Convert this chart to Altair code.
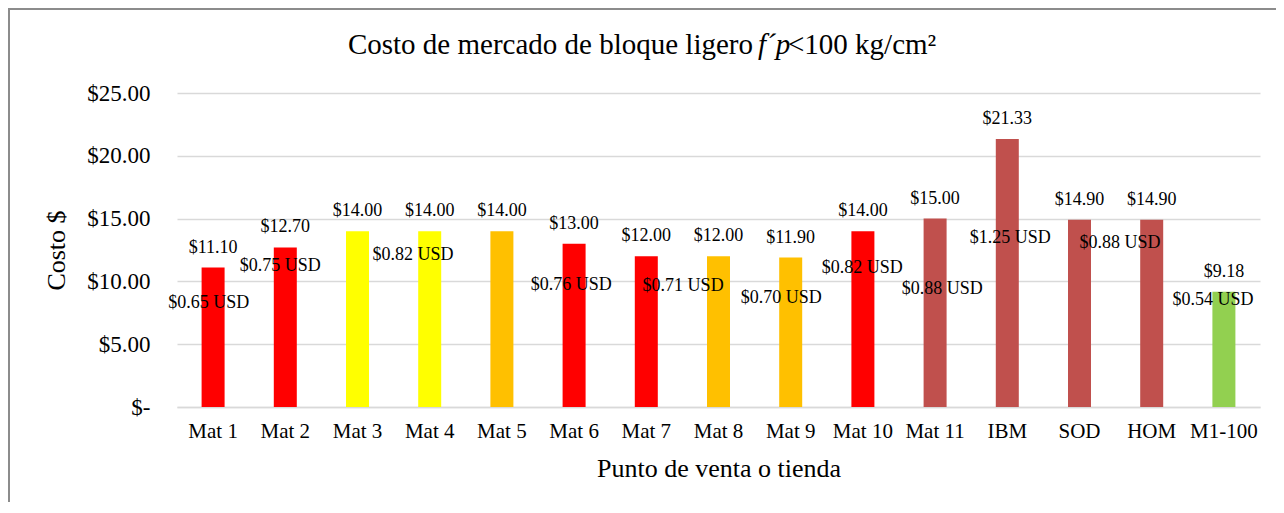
import altair as alt
import pandas as pd

categories = ["Mat 1", "Mat 2", "Mat 3", "Mat 4", "Mat 5", "Mat 6", "Mat 7", "Mat 8",
              "Mat 9", "Mat 10", "Mat 11", "IBM", "SOD", "HOM", "M1-100"]
costs = [11.10, 12.70, 14.00, 14.00, 14.00, 13.00, 12.00, 12.00, 11.90, 14.00,
         15.00, 21.33, 14.90, 14.90, 9.18]
bar_colors = ["#FF0000", "#FF0000", "#FFFF00", "#FFFF00", "#FFC000", "#FF0000", "#FF0000",
              "#FFC000", "#FFC000", "#FF0000", "#C0504D", "#C0504D", "#C0504D", "#C0504D",
              "#92D050"]

usd_labels = ["$0.65 USD", "$0.75 USD", "$0.82 USD", "$0.76 USD", "$0.71 USD", "$0.70 USD",
              "$0.82 USD", "$0.88 USD", "$1.25 USD", "$0.88 USD", "$0.54 USD"]
# label anchor: position along the category axis (band units) and value on the cost axis
usd_anchor_x = [0.44, 1.43, 3.27, 5.46, 7.01, 8.37, 9.49, 10.6, 11.54, 13.06, 14.35]
usd_anchor_y = [8.28, 11.23, 12.10, 9.71, 9.63, 8.68, 11.07, 9.39, 13.46, 13.06, 8.52]

y_ticks = [0, 5, 10, 15, 20, 25]

FONT = "Liberation Serif"
W, H = 1083, 314

bars_df = pd.DataFrame({"cat": categories, "cost": costs, "color": bar_colors})
usd_df = pd.DataFrame({"label": usd_labels, "ux": usd_anchor_x, "cost": usd_anchor_y})
one = pd.DataFrame({"a": [0]})

y_enc = alt.Y(
    "cost:Q",
    scale=alt.Scale(domain=[0, 25], nice=False),
    axis=alt.Axis(
        values=y_ticks,
        labelExpr="datum.value == 0 ? '$-' : '$' + format(datum.value, '.2f')",
        grid=True, gridColor="#d9d9d9", gridWidth=1.5,
        domain=False, ticks=False,
        labelFont=FONT, labelFontSize=23, labelColor="#000000", labelPadding=27,
        title="Costo $", titleFont=FONT, titleFontSize=26, titleFontWeight="normal",
        titleColor="#000000", titleX=-121, titleY=H / 2, titleAngle=-90,
        titleAlign="center", titleBaseline="middle",
    ),
)

x_enc = alt.X(
    "cat:N", sort=categories,
    scale=alt.Scale(paddingInner=0, paddingOuter=0),
    axis=alt.Axis(
        labelAngle=0, ticks=False, domain=True, domainColor="#d9d9d9", domainWidth=1.5,
        labelFont=FONT, labelFontSize=21, labelColor="#000000", labelPadding=13,
        title="Punto de venta o tienda", titleFont=FONT, titleFontSize=26,
        titleFontWeight="normal", titleColor="#000000", titleX=W / 2, titleY=61,
        titleBaseline="middle", titleAlign="center",
    ),
)

bars = alt.Chart(bars_df).mark_bar(size=23).encode(
    x=x_enc, y=y_enc, color=alt.Color("color:N", scale=None)
)

top_labels = alt.Chart(bars_df).mark_text(
    font=FONT, fontSize=18, color="#000000", baseline="alphabetic", dy=-15
).encode(x=alt.X("cat:N", sort=categories), y=y_enc,
         text=alt.Text("cost:Q", format="$.2f"))

base = alt.layer(bars, top_labels)

usd = alt.Chart(usd_df).mark_text(
    font=FONT, fontSize=18, color="#000000", baseline="middle"
).encode(
    x=alt.X("ux:Q", scale=alt.Scale(domain=[0, 15], nice=False, zero=False), axis=None),
    y=y_enc,
    text="label:N",
)

title_left = alt.Chart(one).mark_text(
    font=FONT, fontSize=29, color="#000000", align="right", baseline="alphabetic"
).encode(x=alt.value(576), y=alt.value(-39),
         text=alt.value("Costo de mercado de bloque ligero"))
title_mid = alt.Chart(one).mark_text(
    font=FONT, fontSize=29, color="#000000", align="left", baseline="alphabetic",
    fontStyle="italic"
).encode(x=alt.value(581), y=alt.value(-39), text=alt.value("f´p"))
title_right = alt.Chart(one).mark_text(
    font=FONT, fontSize=29, color="#000000", align="left", baseline="alphabetic"
).encode(x=alt.value(611), y=alt.value(-39), text=alt.value("<100 kg/cm²"))

border_left = alt.Chart(one).mark_rule(color="#8c8c8c", strokeWidth=2).encode(
    x=alt.value(-168), y=alt.value(-85), y2=alt.value(600)
)
border_top = alt.Chart(one).mark_rule(color="#8c8c8c", strokeWidth=2).encode(
    x=alt.value(-169), x2=alt.value(1130), y=alt.value(-84)
)

chart = alt.layer(
    base, usd, title_left, title_mid, title_right, border_left, border_top
).resolve_scale(x="independent").resolve_axis(x="independent").properties(
    width=W, height=H,
    padding={"left": 169, "top": 85, "right": 16, "bottom": 95},
    autosize=alt.AutoSizeParams(type="none"),
).configure_view(stroke=None)

chart.save("out.html", embed_options={"renderer": "svg", "actions": False})
